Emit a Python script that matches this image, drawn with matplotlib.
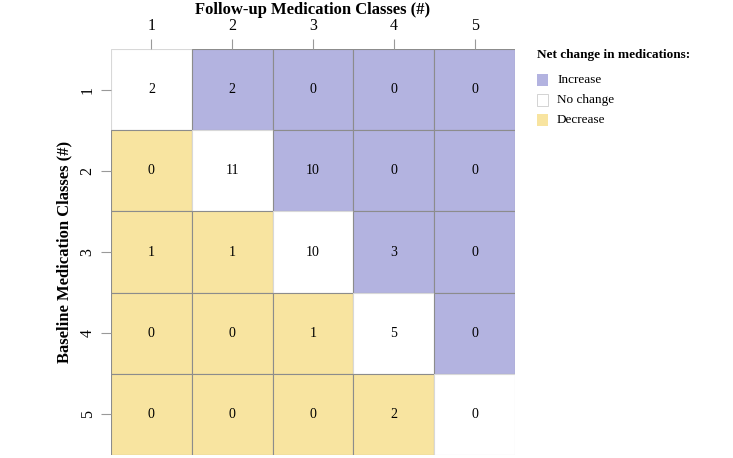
import matplotlib
matplotlib.use("Agg")
import matplotlib.pyplot as plt
from matplotlib.patches import Rectangle

plt.rcParams.update({"font.family": ["Liberation Serif", "DejaVu Serif"]})

baseline = [1, 2, 3, 4, 5]
followup = [1, 2, 3, 4, 5]
counts = [
    [2, 2, 0, 0, 0],
    [0, 11, 10, 0, 0],
    [1, 1, 10, 3, 0],
    [0, 0, 1, 5, 0],
    [0, 0, 0, 2, 0],
]
legend_labels = ["Increase", "No change", "Decrease"]
PURPLE, WHITE, YELLOW = "#b3b3e0", "#ffffff", "#f8e4a0"
colors = {"Increase": PURPLE, "No change": WHITE, "Decrease": YELLOW}

fig = plt.figure(figsize=(7.33, 4.58), dpi=100)
ax = fig.add_axes([111 / 733, 1 - 455 / 458, 404 / 733, 406 / 458])

for i, b in enumerate(baseline):
    for j, f in enumerate(followup):
        kind = "Increase" if f > b else ("Decrease" if f < b else "No change")
        ec = "#d8d8d8" if kind == "No change" else "#8c8c8c"
        ax.add_patch(Rectangle((f - 0.5, b - 0.5), 1, 1, facecolor=colors[kind],
                               edgecolor=ec, lw=0.8))
        ax.text(f, b, str(counts[i][j]), ha="center", va="center", fontsize=10)

ax.set_xlim(0.5, 5.5)
ax.set_ylim(5.5, 0.5)
ax.xaxis.tick_top()
ax.set_xticks(followup)
ax.set_yticks(baseline)
ax.set_yticklabels([str(b) for b in baseline], rotation=90, va="center")
ax.tick_params(length=7, color="#999999", labelsize=11.5, pad=4)
for s in ax.spines.values():
    s.set_visible(False)
ax.set_ylabel("Baseline Medication Classes (#)", fontsize=12, fontweight="bold", labelpad=5)

# x axis title sits above the top tick labels
fig.text(313 / 733, 1 - 9.5 / 458, "Follow-up Medication Classes (#)", fontsize=12,
         fontweight="bold", ha="center", va="center")

fig.text(537 / 733, 1 - 55 / 458, "Net change in medications:", fontsize=9.5,
         fontweight="bold", va="center")
for k, lab in enumerate(legend_labels):
    y = 80 + 20 * k
    fig.patches.append(Rectangle((537 / 733, 1 - (y + 6) / 458), 11 / 733, 12 / 458,
                                 transform=fig.transFigure, facecolor=colors[lab],
                                 edgecolor="#cccccc" if lab == "No change" else "none", lw=0.6))
    fig.text(557 / 733, 1 - y / 458, lab, fontsize=9.5, va="center")

fig.savefig("out.png", dpi=100)
